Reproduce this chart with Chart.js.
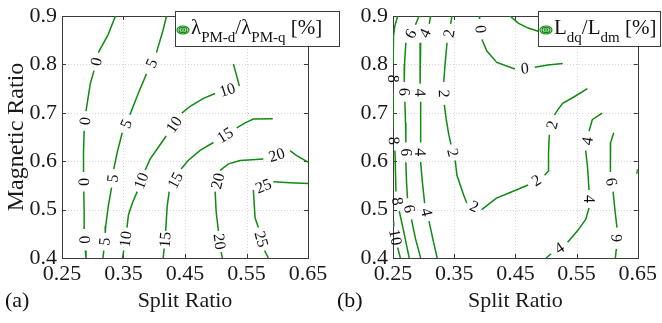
<!DOCTYPE html>
<html>
<head>
<meta charset="utf-8">
<script src="https://cdn.jsdelivr.net/npm/chart.js@4.4.1/dist/chart.umd.min.js"></script>
<style>
html, body { margin: 0; padding: 0; background: #fff; }
#wrap { position: relative; width: 662px; height: 323px; overflow: hidden; }
canvas { position: absolute; top: 0; }
#cA { left: 0; }
#cB { left: 330px; }
</style>
</head>
<body>
<div id="wrap">
  <canvas id="cA" width="345" height="323"></canvas>
  <canvas id="cB" width="332" height="323"></canvas>
</div>
<script>
const xTicks = [0.25, 0.35, 0.45, 0.55, 0.65];
const yTicks = [0.4, 0.5, 0.6, 0.7, 0.8, 0.9];

// (a) flux ratio contours, [split ratio, magnetic ratio]; a label sits in every gap between pieces
const fluxLines = [
  { level: 0, pieces: [
    [[0.337,0.9],[0.325,0.8615],[0.309,0.8244]],
    [[0.302,0.7871],[0.296,0.7601],[0.291,0.7196],[0.289,0.7034]],
    [[0.286,0.6628],[0.285,0.6183],[0.285,0.5777]],
    [[0.2855,0.5372],[0.286,0.4966],[0.286,0.4601]],
    [[0.288,0.4155],[0.289,0.40]] ] },
  { level: 5, pieces: [
    [[0.420,0.9],[0.4145,0.8716],[0.4036,0.8244]],
    [[0.3874,0.7804],[0.3739,0.7399],[0.3604,0.6959]],
    [[0.3479,0.6588],[0.3398,0.6183],[0.3341,0.5838]],
    [[0.3306,0.5453],[0.3252,0.5068],[0.3211,0.4662],[0.3203,0.4520]],
    [[0.3179,0.4155],[0.3166,0.40]] ] },
  { level: 10, pieces: [
    [[0.5287,0.8007],[0.5331,0.7804],[0.5384,0.7555]],
    [[0.499,0.7399],[0.48,0.7297],[0.4584,0.7135],[0.4449,0.6994]],
    [[0.4194,0.6521],[0.4064,0.6284],[0.3934,0.6047],[0.3853,0.5818]],
    [[0.3723,0.5372],[0.3642,0.5128],[0.3582,0.4899],[0.3556,0.4628]],
    [[0.3504,0.4155],[0.3484,0.40]] ] },
  { level: 15, pieces: [
    [[0.5927,0.6878],[0.5612,0.6872],[0.5477,0.6791],[0.5342,0.669]],
    [[0.4962,0.6386],[0.4746,0.6223],[0.4551,0.6014],[0.4437,0.5838]],
    [[0.4243,0.5372],[0.421,0.5068],[0.4186,0.4561]],
    [[0.4161,0.4196],[0.4145,0.40]] ] },
  { level: 20, pieces: [
    [[0.65,0.598],[0.6316,0.6116],[0.6208,0.6217]],
    [[0.5774,0.6047],[0.5396,0.6014],[0.5206,0.5945],[0.5071,0.5812]],
    [[0.499,0.5372],[0.5006,0.4966],[0.5043,0.4561]],
    [[0.5087,0.4121],[0.5108,0.40]] ] },
  { level: 25, pieces: [
    [[0.65,0.554],[0.6208,0.5554],[0.5936,0.5574]],
    [[0.5612,0.5406],[0.5623,0.5169],[0.5639,0.4831],[0.5693,0.4628]],
    [[0.5793,0.4155],[0.5855,0.40]] ] }
];

// (b) cross-coupling inductance ratio contours
const inductLines = [
  { level: 8, pieces: [
    [[0.2576,0.9],[0.2527,0.8777],[0.2508,0.8574],[0.2503,0.8007]],
    [[0.2503,0.7399],[0.2500,0.6628]],
    [[0.2532,0.6223],[0.2548,0.5372]],
    [[0.2603,0.4966],[0.2673,0.4561],[0.2765,0.40]] ] },
  { level: 10, pieces: [
    [[0.25,0.4763],[0.2511,0.4642]],
    [[0.2576,0.4216],[0.262,0.40]] ] },
  { level: 6, pieces: [
    [[0.2926,0.9],[0.2867,0.8818]],
    [[0.271,0.8447],[0.2689,0.8007],[0.2684,0.7636]],
    [[0.2694,0.723],[0.2705,0.6791],[0.271,0.6385]],
    [[0.271,0.598],[0.2721,0.5574],[0.2737,0.5236]],
    [[0.2802,0.4798],[0.2867,0.4399],[0.2952,0.40]] ] },
  { level: 4, pieces: [
    [[0.3114,0.9],[0.3093,0.8838]],
    [[0.2952,0.8447],[0.2943,0.8007],[0.2943,0.7601]],
    [[0.2952,0.723],[0.2952,0.6791],[0.2952,0.6385]],
    [[0.2952,0.598],[0.298,0.5574],[0.3017,0.5134]],
    [[0.3088,0.4763],[0.3157,0.4358],[0.3222,0.40]] ] },
  { level: 2, pieces: [
    [[0.3464,0.9],[0.344,0.8838]],
    [[0.3383,0.8447],[0.3351,0.8007],[0.333,0.7636]],
    [[0.334,0.7162],[0.3367,0.6892],[0.3411,0.6553],[0.3448,0.6345]],
    [[0.3517,0.6014],[0.3545,0.571],[0.3653,0.5305],[0.3706,0.5135]],
    [[0.3949,0.5001],[0.4191,0.5236],[0.4385,0.5337],[0.4708,0.5507]],
    [[0.4977,0.571],[0.5039,0.5797],[0.5042,0.6183],[0.5055,0.6547]],
    [[0.5139,0.6953],[0.5192,0.706],[0.5273,0.7196],[0.5462,0.7332],[0.5677,0.75]] ] },
  { level: 0, pieces: [
    [[0.3908,0.9],[0.3916,0.8939]],
    [[0.3954,0.8514],[0.4034,0.8276],[0.4196,0.8041],[0.4493,0.7905]],
    [[0.4816,0.794],[0.5031,0.7986],[0.5273,0.8021]] ] },
  { level: 0, pieces: [
    [[0.4412,0.9],[0.4546,0.8852],[0.4708,0.8751],[0.495,0.8655]] ] },
  { level: 4, pieces: [
    [[0.5919,0.6993],[0.5757,0.6857],[0.5704,0.6622]],
    [[0.5649,0.6217],[0.5677,0.5913],[0.5704,0.5406]],
    [[0.5704,0.5033],[0.5649,0.4798],[0.5515,0.4561],[0.5354,0.4324]],
    [[0.5084,0.4089],[0.5003,0.40]] ] },
  { level: 6, pieces: [
    [[0.6108,0.6588],[0.6056,0.6385],[0.6053,0.5777]],
    [[0.6097,0.5372],[0.6129,0.4966],[0.6161,0.4628]],
    [[0.615,0.419],[0.6134,0.40]] ] },
  { level: 8, pieces: [
    [[0.65,0.5838],[0.6484,0.5737]] ] }
];

// legend texts: [text, is subscript]
const fluxKey = [['λ',0],['PM-d',1],['/λ',0],['PM-q',1],[' [%]',0]];
const inductKey = [['L',0],['dq',1],['/L',0],['dm',1],[' [%]',0]];

const GREEN = '#118a11';
const AXIS = '#3a3a3a';
const SERIF = '"Liberation Serif", "Times New Roman", serif';

function toSets(lines) {
  const sets = [];
  lines.forEach(line => line.pieces.forEach(p => {
    sets.push({
      data: p.map(([s, m]) => ({ x: s, y: m })),
      showLine: true, borderColor: GREEN, borderWidth: 1.5,
      pointRadius: 0, tension: 0, fill: false
    });
  }));
  return sets;
}

function drawKey(ctx, box, parts) {
  ctx.save();
  ctx.fillStyle = '#fff';
  ctx.fillRect(box.x, box.y, box.w, box.h);
  ctx.strokeStyle = AXIS; ctx.lineWidth = 1;
  ctx.strokeRect(box.x + 0.5, box.y + 0.5, box.w - 1, box.h - 1);
  // contour icon
  ctx.strokeStyle = GREEN; ctx.lineWidth = 1.2;
  [[6, 4], [4, 2.6], [2, 1.2]].forEach(([rx, ry]) => {
    ctx.beginPath(); ctx.ellipse(box.x + 8, box.y + 19, rx, ry, 0, 0, Math.PI * 2); ctx.stroke();
  });
  ctx.fillStyle = '#111'; ctx.textBaseline = 'alphabetic'; ctx.textAlign = 'left';
  let cx = box.x + 16;
  parts.forEach(([t, sub]) => {
    ctx.font = (sub ? '15px ' : '21px ') + SERIF;
    ctx.fillText(t, cx, box.y + (sub ? 31 : 23));
    cx += ctx.measureText(t).width;
  });
  ctx.restore();
}

function framePlugin(lines, key, keyBox, tag) {
  return {
    id: 'frame',
    beforeDatasetsDraw(chart) {
      const { ctx, chartArea: a, scales: { x, y } } = chart;
      ctx.save();
      ctx.strokeStyle = '#d6d6d6'; ctx.lineWidth = 1; ctx.setLineDash([1, 2]);
      xTicks.forEach(v => {
        const px = Math.round(x.getPixelForValue(v)) + 0.5;
        ctx.beginPath(); ctx.moveTo(px, a.top); ctx.lineTo(px, a.bottom); ctx.stroke();
      });
      yTicks.forEach(v => {
        const py = Math.round(y.getPixelForValue(v)) + 0.5;
        ctx.beginPath(); ctx.moveTo(a.left, py); ctx.lineTo(a.right, py); ctx.stroke();
      });
      ctx.setLineDash([]);
      ctx.strokeStyle = AXIS;
      ctx.strokeRect(Math.round(a.left) + 0.5, Math.round(a.top) + 0.5,
        Math.round(a.right - a.left), Math.round(a.bottom - a.top));
      ctx.beginPath();
      xTicks.forEach(v => {
        const px = Math.round(x.getPixelForValue(v)) + 0.5;
        ctx.moveTo(px, a.bottom); ctx.lineTo(px, a.bottom - 4);
        ctx.moveTo(px, a.top); ctx.lineTo(px, a.top + 4);
      });
      yTicks.forEach(v => {
        const py = Math.round(y.getPixelForValue(v)) + 0.5;
        ctx.moveTo(a.left, py); ctx.lineTo(a.left + 4, py);
        ctx.moveTo(a.right, py); ctx.lineTo(a.right - 4, py);
      });
      ctx.stroke();
      ctx.restore();
    },
    afterDatasetsDraw(chart) {
      const { ctx, scales: { x, y } } = chart;
      ctx.save();
      ctx.font = '16px ' + SERIF; ctx.fillStyle = '#111';
      ctx.textAlign = 'center'; ctx.textBaseline = 'middle';
      lines.forEach(line => {
        for (let i = 0; i < line.pieces.length - 1; i++) {
          const p = line.pieces[i][line.pieces[i].length - 1];
          const q = line.pieces[i + 1][0];
          const x1 = x.getPixelForValue(p[0]), y1 = y.getPixelForValue(p[1]);
          const x2 = x.getPixelForValue(q[0]), y2 = y.getPixelForValue(q[1]);
          let ang = Math.atan2(y2 - y1, x2 - x1);
          if (ang > Math.PI / 2) ang -= Math.PI;
          if (ang < -Math.PI / 2) ang += Math.PI;
          ctx.save();
          ctx.translate((x1 + x2) / 2, (y1 + y2) / 2);
          ctx.rotate(ang);
          ctx.fillText(String(line.level), 0, 1);
          ctx.restore();
        }
      });
      ctx.restore();
    },
    afterDraw(chart) {
      const ctx = chart.ctx;
      drawKey(ctx, keyBox, key);
      ctx.save();
      ctx.font = '22px ' + SERIF; ctx.fillStyle = '#111';
      ctx.textAlign = 'left'; ctx.textBaseline = 'middle';
      ctx.fillText(tag.text, tag.x, 301);
      ctx.restore();
    }
  };
}

function makeChart(id, lines, opts) {
  const tickFont = { family: SERIF, size: 22, lineHeight: 1 };
  return new Chart(document.getElementById(id), {
    type: 'scatter',
    data: { datasets: toSets(lines) },
    options: {
      responsive: false, animation: false, devicePixelRatio: 1,
      layout: { padding: { top: 11, right: opts.right, bottom: 0, left: 0 } },
      plugins: { legend: { display: false }, tooltip: { enabled: false } },
      scales: {
        x: {
          type: 'linear', min: 0.25, max: 0.65,
          afterBuildTicks: s => { s.ticks = xTicks.map(v => ({ value: v })); },
          afterFit: s => { s.height = 65; },
          ticks: { callback: v => v.toFixed(2), font: tickFont, color: '#1a1a1a', padding: 5, maxRotation: 0, autoSkip: false },
          grid: { display: false, drawTicks: false }, border: { display: false },
          title: { display: true, text: 'Split Ratio', font: { family: SERIF, size: 22 }, color: '#1a1a1a', padding: { top: 0, bottom: 9 } }
        },
        y: {
          type: 'linear', min: 0.4, max: 0.9,
          afterBuildTicks: s => { s.ticks = yTicks.map(v => ({ value: v })); },
          afterFit: s => { s.width = opts.left; },
          ticks: { callback: v => v.toFixed(1), font: tickFont, color: '#1a1a1a', padding: 5, autoSkip: false },
          grid: { display: false, drawTicks: false }, border: { display: false },
          title: { display: opts.yTitle, text: 'Magnetic Ratio', font: { family: SERIF, size: 24 }, color: '#1a1a1a', padding: { top: 2, bottom: 0 } }
        }
      }
    },
    plugins: [framePlugin(lines, opts.key, opts.keyBox, opts.tag)]
  });
}

makeChart('cA', fluxLines, {
  left: 62, right: 37, yTitle: true, key: fluxKey,
  keyBox: { x: 175, y: 11, w: 165, h: 36 }, tag: { text: '(a)', x: 5 }
});
makeChart('cB', inductLines, {
  left: 63, right: 21, yTitle: false, key: inductKey,
  keyBox: { x: 208, y: 11, w: 123, h: 36 }, tag: { text: '(b)', x: 7 }
});
</script>
</body>
</html>
